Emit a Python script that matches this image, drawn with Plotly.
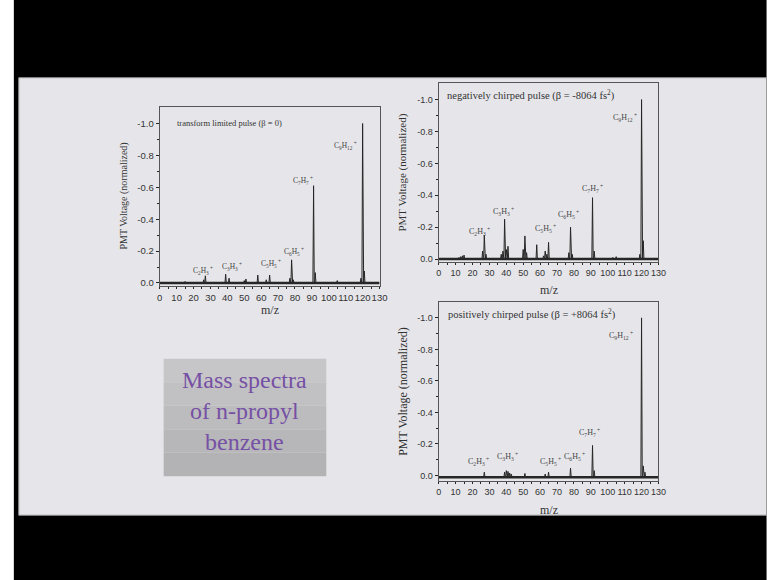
import plotly.graph_objects as go

# ---------------- data ----------------
# transform limited pulse (beta = 0)
tl_mz = [15, 26, 27, 39, 41, 50, 51, 58, 63, 65, 77, 78, 79, 91, 92, 105, 119, 120, 121]
tl_int = [0.01, 0.02, 0.045, 0.055, 0.03, 0.015, 0.025, 0.05, 0.02, 0.05, 0.03, 0.145, 0.02,
          0.61, 0.065, 0.015, 0.03, 1.0, 0.075]
tl_base = 0.0

# negatively chirped pulse
neg_mz = [12, 13, 14, 15, 26, 27, 28, 37, 38, 39, 40, 41, 50, 51, 52, 58, 62, 63, 64, 65,
          77, 78, 79, 91, 92, 103, 105, 119, 120, 121]
neg_int = [0.01, 0.015, 0.02, 0.025, 0.05, 0.15, 0.03, 0.03, 0.05, 0.25, 0.06, 0.08, 0.06,
           0.145, 0.04, 0.09, 0.02, 0.05, 0.03, 0.105, 0.04, 0.2, 0.03, 0.385, 0.05, 0.01,
           0.015, 0.03, 1.0, 0.115]
neg_base = 0.0

# positively chirped pulse
pos_mz = [27, 39, 40, 41, 42, 43, 51, 63, 65, 78, 91, 92, 120, 121, 122]
pos_int = [0.02, 0.02, 0.03, 0.025, 0.015, 0.008, 0.012, 0.008, 0.02, 0.045, 0.19, 0.03,
           1.0, 0.06, 0.02]
pos_base = -0.012

# fragment labels: (text, m/z position, normalized height position)
tl_labels = [("C<sub>2</sub>H<sub>3</sub><sup> +</sup>", 25.7, 0.08),
             ("C<sub>3</sub>H<sub>3</sub><sup> +</sup>", 43.0, 0.106),
             ("C<sub>5</sub>H<sub>5</sub><sup> +</sup>", 66.0, 0.125),
             ("C<sub>6</sub>H<sub>5</sub><sup> +</sup>", 79.3, 0.2),
             ("C<sub>7</sub>H<sub>7</sub><sup> +</sup>", 85.0, 0.64),
             ("C<sub>9</sub>H<sub>12</sub><sup> +</sup>", 110.0, 0.86)]
neg_labels = [("C<sub>2</sub>H<sub>3</sub><sup> +</sup>", 24.0, 0.175),
              ("C<sub>3</sub>H<sub>3</sub><sup> +</sup>", 38.6, 0.30),
              ("C<sub>5</sub>H<sub>5</sub><sup> +</sup>", 63.2, 0.19),
              ("C<sub>6</sub>H<sub>5</sub><sup> +</sup>", 76.7, 0.28),
              ("C<sub>7</sub>H<sub>7</sub><sup> +</sup>", 91.0, 0.44),
              ("C<sub>9</sub>H<sub>12</sub><sup> +</sup>", 110.0, 0.89)]
pos_labels = [("C<sub>2</sub>H<sub>3</sub><sup> +</sup>", 23.3, 0.09),
              ("C<sub>3</sub>H<sub>3</sub><sup> +</sup>", 40.8, 0.12),
              ("C<sub>5</sub>H<sub>5</sub><sup> +</sup>", 65.9, 0.09),
              ("C<sub>6</sub>H<sub>5</sub><sup> +</sup>", 80.4, 0.12),
              ("C<sub>7</sub>H<sub>7</sub><sup> +</sup>", 89.2, 0.27),
              ("C<sub>9</sub>H<sub>12</sub><sup> +</sup>", 107.8, 0.89)]

panel_titles = ["transform limited pulse (β = 0)",
                "negatively chirped pulse (β = -8064 fs<sup>2</sup>)",
                "positively chirped pulse (β = +8064 fs<sup>2</sup>)"]
ytick_vals = [0.0, -0.2, -0.4, -0.6, -0.8, -1.0]
ytick_text = ["0.0", "-0.2", "-0.4", "-0.6", "-0.8", "-1.0"]
xtick_vals = list(range(0, 131, 10))
box_text = "Mass spectra<br>of n-propyl<br>benzene"

# ---------------- helpers ----------------
W, H = 767, 580
def px(x):
    return x / W
def py(y):
    return 1 - y / H

HALF = 0.4  # drawing half-width of a peak in m/z units

def spectrum(mz, inten, base):
    xs, ys = [0], [-base]
    for m, h in sorted(zip(mz, inten)):
        xs += [m - HALF, m, m + HALF]
        ys += [-base, -h, -base]
    xs.append(130)
    ys.append(-base)
    return xs, ys

serif = "Liberation Serif"
sans = "Liberation Sans"
ink = "#262626"

fig = go.Figure()

panels = [
    dict(mz=tl_mz, it=tl_int, base=tl_base, labels=tl_labels, xd=(159, 382), yd=(107, 287),
         yr=[0.019, -1.106], xs="x", ys="y", tickfs=9.5, ytitle_fs=10, ytx=123,
         mz_y=311, title_xy=(175, 123), title_fs=8.5, lab_fs=7.5),
    dict(mz=neg_mz, it=neg_int, base=neg_base, labels=neg_labels, xd=(442, 665), yd=(83, 263),
         yr=[0.019, -1.106], xs="x2", ys="y2", tickfs=9, ytitle_fs=11, ytx=405,
         mz_y=291, title_xy=(448, 95), title_fs=10.5, lab_fs=8),
    dict(mz=pos_mz, it=pos_int, base=pos_base, labels=pos_labels, xd=(442, 665), yd=(303, 483),
         yr=[0.038, -1.101], xs="x3", ys="y3", tickfs=9, ytitle_fs=12, ytx=405,
         mz_y=512, title_xy=(449, 315), title_fs=10.5, lab_fs=8),
]

annotations = []
for i, p in enumerate(panels):
    xs, ys = spectrum(p["mz"], p["it"], p["base"])
    fig.add_trace(go.Scatter(x=xs, y=ys, mode="lines", xaxis=p["xs"], yaxis=p["ys"],
                             line=dict(color=ink, width=1), showlegend=False,
                             hoverinfo="skip"))
    fig.add_trace(go.Scatter(x=[0, 130], y=[-p["base"], -p["base"]], mode="lines",
                             xaxis=p["xs"], yaxis=p["ys"],
                             line=dict(color=ink, width=2.4), showlegend=False,
                             hoverinfo="skip"))
    suffix = "" if i == 0 else str(i + 1)
    fig.update_layout(**{
        "xaxis" + suffix: dict(domain=[px(p["xd"][0]), px(p["xd"][1])], range=[0, 130],
                               anchor="y" + suffix, tickvals=xtick_vals, tickangle=0,
                               ticks="outside", ticklen=2, tickwidth=1, tickcolor=ink,
                               minor=dict(dtick=5, tick0=0, ticks="outside", ticklen=2,
                                          tickcolor=ink),
                               showline=True, linecolor="#555", linewidth=1.2, mirror=True,
                               showgrid=False, zeroline=False,
                               tickfont=dict(family=sans, size=p["tickfs"], color="#333")),
        "yaxis" + suffix: dict(domain=[py(p["yd"][1]), py(p["yd"][0])], range=p["yr"],
                               anchor="x" + suffix, tickvals=ytick_vals, ticktext=ytick_text,
                               ticks="outside", ticklen=3, tickwidth=1, tickcolor=ink,
                               minor=dict(tickvals=[-0.1, -0.3, -0.5, -0.7, -0.9],
                                          ticks="outside", ticklen=2, tickcolor=ink),
                               showline=True, linecolor="#555", linewidth=1.2, mirror=True,
                               showgrid=False, zeroline=False,
                               tickfont=dict(family=sans, size=p["tickfs"], color="#333")),
    })
    # panel title
    annotations.append(dict(x=px(p["title_xy"][0]), y=py(p["title_xy"][1]), xref="paper",
                            yref="paper", text=panel_titles[i], showarrow=False,
                            xanchor="left", yanchor="middle",
                            font=dict(family=serif, size=p["title_fs"], color="#333")))
    # axis titles
    annotations.append(dict(x=px((p["xd"][0] + p["xd"][1]) / 2), y=py(p["mz_y"]),
                            xref="paper", yref="paper", text="m/z", showarrow=False,
                            xanchor="center", yanchor="middle",
                            font=dict(family=serif, size=12, color="#333")))
    annotations.append(dict(x=px(p["ytx"]), y=py((p["yd"][0] + p["yd"][1]) / 2),
                            xref="paper", yref="paper", text="PMT Voltage (normalized)",
                            showarrow=False, textangle=-90, xanchor="center",
                            yanchor="middle",
                            font=dict(family=serif, size=p["ytitle_fs"], color="#333")))
    for txt, lx, ly in p["labels"]:
        annotations.append(dict(x=lx, y=-ly, xref=p["xs"], yref=p["ys"], text=txt,
                                showarrow=False, xanchor="center", yanchor="middle",
                                font=dict(family=serif, size=p["lab_fs"], color="#444")))

# purple-titled box text
annotations.append(dict(x=px(245.5), y=py(412), xref="paper", yref="paper", text=box_text,
                        showarrow=False, xanchor="center", yanchor="middle",
                        font=dict(family=serif, size=24, color="#7650a4")))

shapes = [
    dict(type="rect", xref="paper", yref="paper", x0=px(11), x1=1.01, y0=-0.01, y1=1.01,
         fillcolor="black", line=dict(width=0), layer="below"),
    dict(type="rect", xref="paper", yref="paper", x0=px(16), x1=1.01, y0=py(517), y1=py(78),
         fillcolor="#e6e6ea", line=dict(color="#9a9a9a", width=1), layer="below"),
]
# gray box with a slight vertical gradient
box_cols = ["#c6c6c8", "#c1c1c3", "#bcbcbe", "#b7b7b9", "#b3b3b5"]
y_top, y_bot = 360, 478
step = (y_bot - y_top) / len(box_cols)
for k, c in enumerate(box_cols):
    shapes.append(dict(type="rect", xref="paper", yref="paper", x0=px(163), x1=px(328),
                       y0=py(y_top + (k + 1) * step), y1=py(y_top + k * step),
                       fillcolor=c, line=dict(width=0), layer="below"))

fig.update_layout(width=W, height=H, margin=dict(l=0, r=0, t=0, b=0),
                  paper_bgcolor="white", plot_bgcolor="rgba(0,0,0,0)",
                  shapes=shapes, annotations=annotations, showlegend=False)

fig.write_html("out.html",
               config={"displayModeBar": False},
               post_script="document.body.style.margin='0';"
                           "document.body.style.overflow='hidden';")
